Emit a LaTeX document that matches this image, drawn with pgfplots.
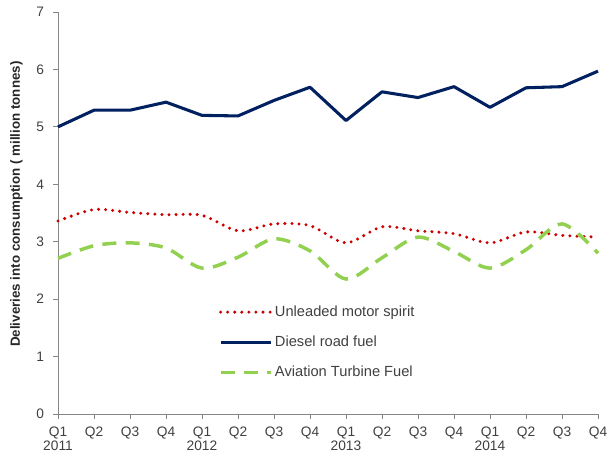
\documentclass[border=0pt]{standalone}
\usepackage{pgfplots}
\pgfplotsset{compat=1.18}
\usepackage{fontspec}
\setmainfont{Liberation Sans}
\definecolor{navy}{RGB}{0,32,96}
\definecolor{dred}{RGB}{204,0,0}
\definecolor{lgreen}{RGB}{146,208,80}
\definecolor{axgray}{RGB}{134,134,134}
\definecolor{txtgray}{RGB}{64,64,64}
\begin{document}
\begin{tikzpicture}
\begin{axis}[
  at={(0,0)}, anchor=south west,
  scale only axis, width=405pt, height=301.5pt,
  xmin=0, xmax=15, ymin=0, ymax=7,
  axis lines*=left,
  axis line style={axgray, line width=0.6pt},
  tick style={axgray, line width=0.6pt},
  tick align=outside,
  major tick length=3.5pt,
  xtick={0,...,15},
  xticklabels={Q1\\2011,Q2,Q3,Q4,Q1\\2012,Q2,Q3,Q4,Q1\\2013,Q2,Q3,Q4,Q1\\2014,Q2,Q3,Q4},
  xticklabel style={align=center, text=txtgray, font=\fontsize{10.3}{10.6}\selectfont, anchor=north, yshift=-2.5pt},
  ytick={0,...,7},
  yticklabel style={text=txtgray, font=\fontsize{10.3}{11}\selectfont, xshift=-3.5pt},
  /pgf/number format/assume math mode=true,
  ylabel={\textbf{Deliveries into consumption ( million tonnes)}},
  ylabel style={at={(axis description cs:-0.077,0.522)}, anchor=center, rotate=0, font=\fontsize{10}{12}\selectfont, text=black!85},
  legend cell align=left,
  legend style={draw=none, fill=none, at={(rel axis cs:0.29,0.283)}, anchor=north west,
    font=\fontsize{11}{13}\selectfont, text=txtgray, row sep=9.2pt},
  legend image code/.code={\draw[#1] (0pt,0pt) -- (37.5pt,0pt);},
  clip=false,
]
\addplot[dred, line width=2.5pt, line cap=round, dash pattern=on 0pt off 5.3pt, smooth] coordinates {
(0,3.36) (1,3.56) (2,3.51) (3,3.47) (4,3.46) (5,3.19) (6,3.31) (7,3.28)
(8,2.98) (9,3.26) (10,3.19) (11,3.14) (12,2.98) (13,3.17) (14,3.11) (15,3.08)};
\addlegendentry{Unleaded motor spirit}
\addplot[navy, line width=2.3pt, line join=round] coordinates {
(0,5.00) (1,5.29) (2,5.29) (3,5.43) (4,5.20) (5,5.19) (6,5.46) (7,5.69)
(8,5.11) (9,5.61) (10,5.51) (11,5.70) (12,5.34) (13,5.68) (14,5.70) (15,5.97)};
\addlegendentry{Diesel road fuel}
\addplot[lgreen, line width=2.6pt, dash pattern=on 10.5pt off 7pt, smooth] coordinates {
(0,2.71) (1,2.93) (2,2.98) (3,2.89) (4,2.54) (5,2.73) (6,3.05) (7,2.84)
(8,2.35) (9,2.72) (10,3.08) (11,2.83) (12,2.54) (13,2.86) (14,3.31) (15,2.80)};
\addlegendentry{Aviation Turbine Fuel}
\end{axis}
\pgfresetboundingbox
\path[use as bounding box] (-43.5pt,-28.5pt) rectangle (411.75pt,310.5pt);
\end{tikzpicture}
\end{document}
